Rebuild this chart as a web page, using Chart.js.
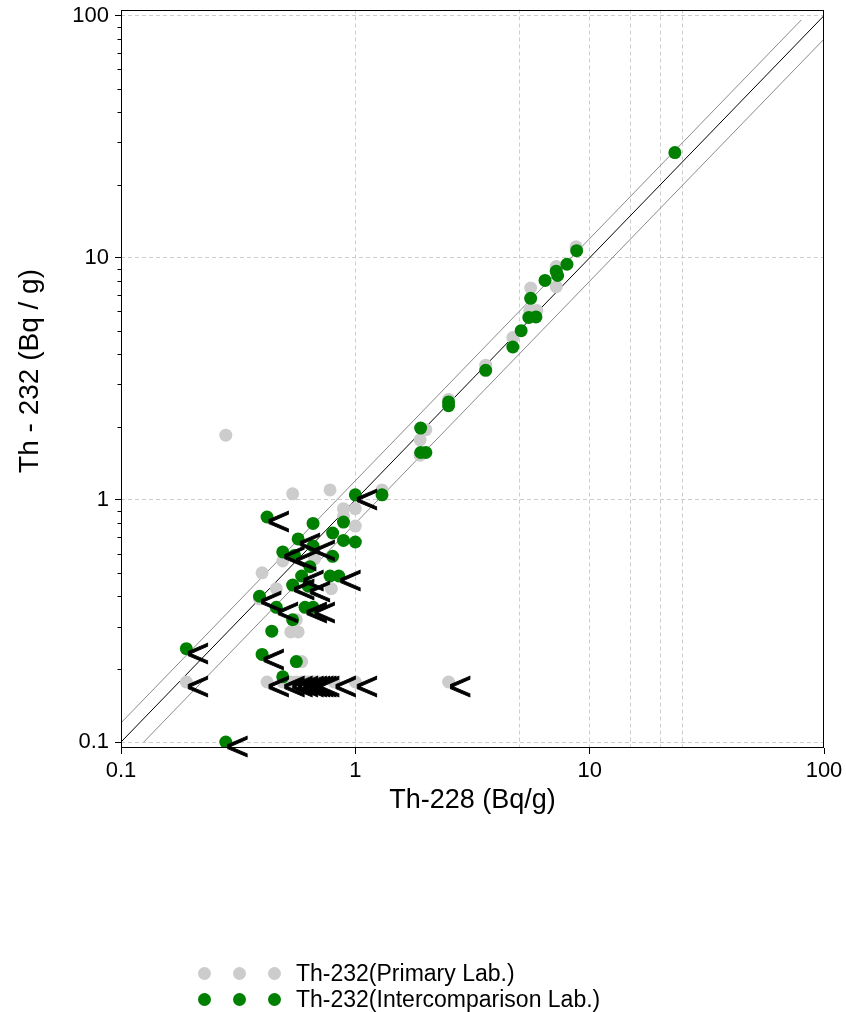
<!DOCTYPE html>
<html>
<head>
<meta charset="utf-8">
<script src="https://cdn.jsdelivr.net/npm/chart.js@4.4.1/dist/chart.umd.min.js"></script>
<style>
  html, body { margin: 0; padding: 0; background: #fff; }
  #wrap { position: relative; width: 846px; height: 1012px; }
  #chart { display: block; }
  #legend { position: absolute; left: 0; top: 0; width: 846px; height: 1012px; pointer-events: none;
            font-family: "Liberation Sans", Arial, sans-serif; font-size: 23px; color: #000; }
  .row { position: absolute; left: 198px; height: 26px; display: flex; align-items: center; white-space: nowrap; }
  .dot { width: 13px; height: 13px; border-radius: 50%; margin-right: 22px; flex: none; }
  .dot.last { margin-right: 15px; }
</style>
</head>
<body>
<div id="wrap">
  <canvas id="chart" width="846" height="1012"></canvas>
  <div id="legend"></div>
</div>
<script>
// Th-228 vs Th-232 activity (Bq/g) — primary laboratory
const primaryTh228 = [0.28, 0.54, 0.78, 0.89, 1.0, 0.89, 1.0, 1.3, 0.40, 0.46,
                      0.79, 0.67, 0.49, 0.39, 0.53, 0.57, 0.59, 0.56, 1.89, 1.89,
                      2.0, 2.5, 3.6, 4.7, 5.55, 5.95, 5.6, 7.2, 7.2, 8.75,
                      0.19, 0.42, 0.49, 0.53, 0.56, 0.59, 0.61, 0.63, 0.65, 0.67,
                      0.69, 0.81, 1.0, 2.5];
const primaryTh232 = [1.85, 1.06, 1.10, 0.92, 0.92, 0.86, 0.78, 1.10, 0.50, 0.43,
                      0.43, 0.57, 0.56, 0.39, 0.285, 0.285, 0.215, 0.32, 1.77, 1.53,
                      1.95, 2.6, 3.6, 4.68, 6.05, 6.05, 7.5, 7.6, 9.2, 11.1,
                      0.177, 0.177, 0.177, 0.177, 0.177, 0.177, 0.177, 0.177, 0.177, 0.177,
                      0.177, 0.177, 0.177, 0.177];
// 1 = Th-232 reported below detection limit ("<")
const primaryBelowDL = [0, 0, 0, 0, 0, 0, 0, 0, 0, 0,
                        0, 0, 0, 0, 0, 0, 0, 0, 0, 0,
                        0, 0, 0, 0, 0, 0, 0, 0, 0, 0,
                        1, 1, 1, 1, 1, 1, 1, 1, 1, 1,
                        1, 1, 1, 1];

// Th-228 vs Th-232 activity (Bq/g) — intercomparison laboratory
const interTh228 = [0.19, 0.28, 0.40, 0.44, 0.49, 0.56, 0.54, 0.39, 0.46, 0.61,
                    0.66, 0.54, 0.63, 0.59, 0.78, 0.85, 0.64, 0.80, 0.49, 0.55,
                    0.57, 0.66, 0.42, 0.66, 0.89, 0.80, 0.89, 1.0, 1.0, 1.3,
                    1.9, 1.9, 2.0, 2.5, 2.5, 3.6, 4.7, 5.1, 5.5, 5.9,
                    5.6, 6.45, 7.2, 7.3, 8.0, 8.8, 23.1];
const interTh232 = [0.243, 0.10, 0.23, 0.287, 0.186, 0.215, 0.32, 0.40, 0.36, 0.36,
                    0.36, 0.445, 0.44, 0.485, 0.485, 0.485, 0.53, 0.585, 0.61, 0.59,
                    0.69, 0.645, 0.85, 0.80, 0.81, 0.73, 0.68, 0.67, 1.05, 1.05,
                    1.98, 1.57, 1.57, 2.54, 2.45, 3.43, 4.28, 5.0, 5.67, 5.7,
                    6.8, 8.06, 8.8, 8.45, 9.4, 10.7, 27.2];
const interBelowDL = [1, 1, 1, 0, 0, 0, 0, 1, 1, 1,
                      1, 1, 1, 1, 0, 1, 0, 0, 1, 1,
                      1, 1, 1, 0, 0, 0, 0, 0, 1, 0,
                      0, 0, 0, 0, 0, 0, 0, 0, 0, 0,
                      0, 0, 0, 0, 0, 0, 0];

// Agreement lines: 1:1 and ±20 %
const ratioLineX = [0.1, 100];
const ratioLineY = [0.1, 100];
const upperLineX = [0.1, 80];
const upperLineY = [0.12, 96];
const lowerLineX = [0.125, 100];
const lowerLineY = [0.1, 80];

// Axis ticks
const xTickValues = [0.1, 1, 5, 10, 15, 20, 25, 100];
const xTickLabels = ['0.1', '1', '', '10', '', '', '', '100'];
const yTickValues = [0.1, 1, 10, 100];
const yTickLabels = ['0.1', '1', '10', '100'];
const yMinorTicks = [0.2, 0.3, 0.4, 0.5, 0.6, 0.7, 0.8, 0.9,
                     2, 3, 4, 5, 6, 7, 8, 9,
                     20, 30, 40, 50, 60, 70, 80, 90];

const FONT = '"Liberation Sans", Arial, Helvetica, sans-serif';
Chart.defaults.font.family = FONT;
Chart.defaults.color = '#000';

const zip = (xs, ys) => xs.map((x, i) => ({ x, y: ys[i] }));
const GRID = '#cdcdcd';

const framePlugin = {
  id: 'frame',
  afterDatasetsDraw(chart) {
    const { ctx, chartArea: a } = chart;
    const l = Math.round(a.left) + 0.5, t = Math.round(a.top) + 0.5;
    const r = Math.round(a.right) - 0.5, b = Math.round(a.bottom) - 0.5;
    ctx.save();
    ctx.strokeStyle = '#000';
    ctx.lineWidth = 1;
    ctx.strokeRect(l, t, r - l, b - t);
    ctx.restore();
  }
};

const minorTickPlugin = {
  id: 'minorTicks',
  afterDraw(chart) {
    const { ctx, chartArea: a } = chart;
    const ys = chart.scales.y;
    const x0 = Math.round(a.left) + 0.5;
    ctx.save();
    ctx.strokeStyle = '#000';
    ctx.lineWidth = 1;
    ctx.beginPath();
    yMinorTicks.forEach(v => {
      const py = Math.round(ys.getPixelForValue(v)) + 0.5;
      ctx.moveTo(x0 - 4, py);
      ctx.lineTo(x0, py);
    });
    ctx.stroke();
    ctx.restore();
  }
};

// "<" symbol to the right of each value reported below the detection limit
const belowLimitPlugin = {
  id: 'belowLimit',
  afterDraw(chart) {
    const ctx = chart.ctx;
    ctx.save();
    ctx.fillStyle = '#000';
    ctx.strokeStyle = '#000';
    ctx.lineWidth = 0.9;
    ctx.lineJoin = 'miter';
    ctx.font = '40px ' + FONT;
    ctx.textAlign = 'left';
    ctx.textBaseline = 'alphabetic';
    chart.data.datasets.forEach((ds, di) => {
      if (!ds.belowLimit) return;
      const meta = chart.getDatasetMeta(di);
      meta.data.forEach((pt, i) => {
        if (!ds.belowLimit[i]) return;
        ctx.fillText('<', pt.x, pt.y + 18.3);
        ctx.strokeText('<', pt.x, pt.y + 18.3);
      });
    });
    ctx.restore();
  }
};

const chart = new Chart(document.getElementById('chart'), {
  type: 'scatter',
  data: {
    datasets: [
      {
        label: 'Th-232(Primary Lab.)',
        data: zip(primaryTh228, primaryTh232),
        belowLimit: primaryBelowDL,
        backgroundColor: '#cccccc',
        pointRadius: 6.5,
        pointBorderWidth: 0,
        inLegend: true,
        order: 2
      },
      {
        label: 'Th-232(Intercomparison Lab.)',
        data: zip(interTh228, interTh232),
        belowLimit: interBelowDL,
        backgroundColor: '#008000',
        pointRadius: 6.5,
        pointBorderWidth: 0,
        inLegend: true,
        order: 1
      },
      {
        data: zip(ratioLineX, ratioLineY),
        showLine: true, borderColor: '#000000', borderWidth: 1, pointRadius: 0, order: 3
      },
      {
        data: zip(upperLineX, upperLineY),
        showLine: true, borderColor: '#8a8a8a', borderWidth: 1, pointRadius: 0, order: 3
      },
      {
        data: zip(lowerLineX, lowerLineY),
        showLine: true, borderColor: '#8a8a8a', borderWidth: 1, pointRadius: 0, order: 3
      }
    ]
  },
  options: {
    responsive: false,
    animation: false,
    events: [],
    layout: { padding: { left: 0, right: 22, top: 9.5, bottom: 191.4 } },
    plugins: { legend: { display: false }, tooltip: { enabled: false } },
    scales: {
      x: {
        type: 'logarithmic',
        min: 0.1,
        max: 100,
        afterBuildTicks: s => { s.ticks = xTickValues.map(v => ({ value: v })); },
        afterFit: s => { s.height = 72.6; s.paddingLeft = 0; s.paddingRight = 0; },
        ticks: {
          autoSkip: false,
          maxRotation: 0,
          padding: 4,
          font: { size: 22 },
          callback: (v, i) => xTickLabels[i]
        },
        grid: {
          color: c => (c.tick && (c.tick.value === 0.1 || c.tick.value === 100)) ? 'rgba(0,0,0,0)' : GRID,
          tickColor: c => (c.tick && xTickLabels[c.index]) ? '#000' : 'rgba(0,0,0,0)',
          tickLength: 6,
          lineWidth: 1
        },
        border: { display: false, dash: [4, 3] },
        title: { display: true, text: 'Th-228 (Bq/g)', font: { size: 27 }, padding: { top: 4, bottom: 4 } }
      },
      y: {
        type: 'logarithmic',
        min: 0.0945,
        max: 106,
        afterBuildTicks: s => { s.ticks = yTickValues.map(v => ({ value: v })); },
        afterFit: s => { s.width = 121; s.paddingTop = 0; s.paddingBottom = 0; },
        ticks: {
          autoSkip: false,
          padding: 6,
          font: { size: 22 },
          callback: (v, i) => yTickLabels[i]
        },
        grid: {
          color: GRID,
          tickColor: '#000',
          tickLength: 6,
          lineWidth: 1
        },
        border: { display: false, dash: [4, 3] },
        title: { display: true, text: '\u00a0\u00a0Th - 232 (Bq / g)', font: { size: 28 }, padding: { top: 13.2, bottom: 0 } }
      }
    }
  },
  plugins: [framePlugin, minorTickPlugin, belowLimitPlugin]
});

// Legend: three markers followed by the series name, one series per row
const legendRowsTop = [960, 986];
const legend = document.getElementById('legend');
chart.data.datasets.filter(ds => ds.inLegend).forEach((ds, k) => {
  const row = document.createElement('div');
  row.className = 'row';
  row.style.top = legendRowsTop[k] + 'px';
  for (let j = 0; j < 3; j++) {
    const d = document.createElement('span');
    d.className = j === 2 ? 'dot last' : 'dot';
    d.style.background = ds.backgroundColor;
    row.appendChild(d);
  }
  const t = document.createElement('span');
  t.textContent = ds.label;
  row.appendChild(t);
  legend.appendChild(row);
});
</script>
</body>
</html>
